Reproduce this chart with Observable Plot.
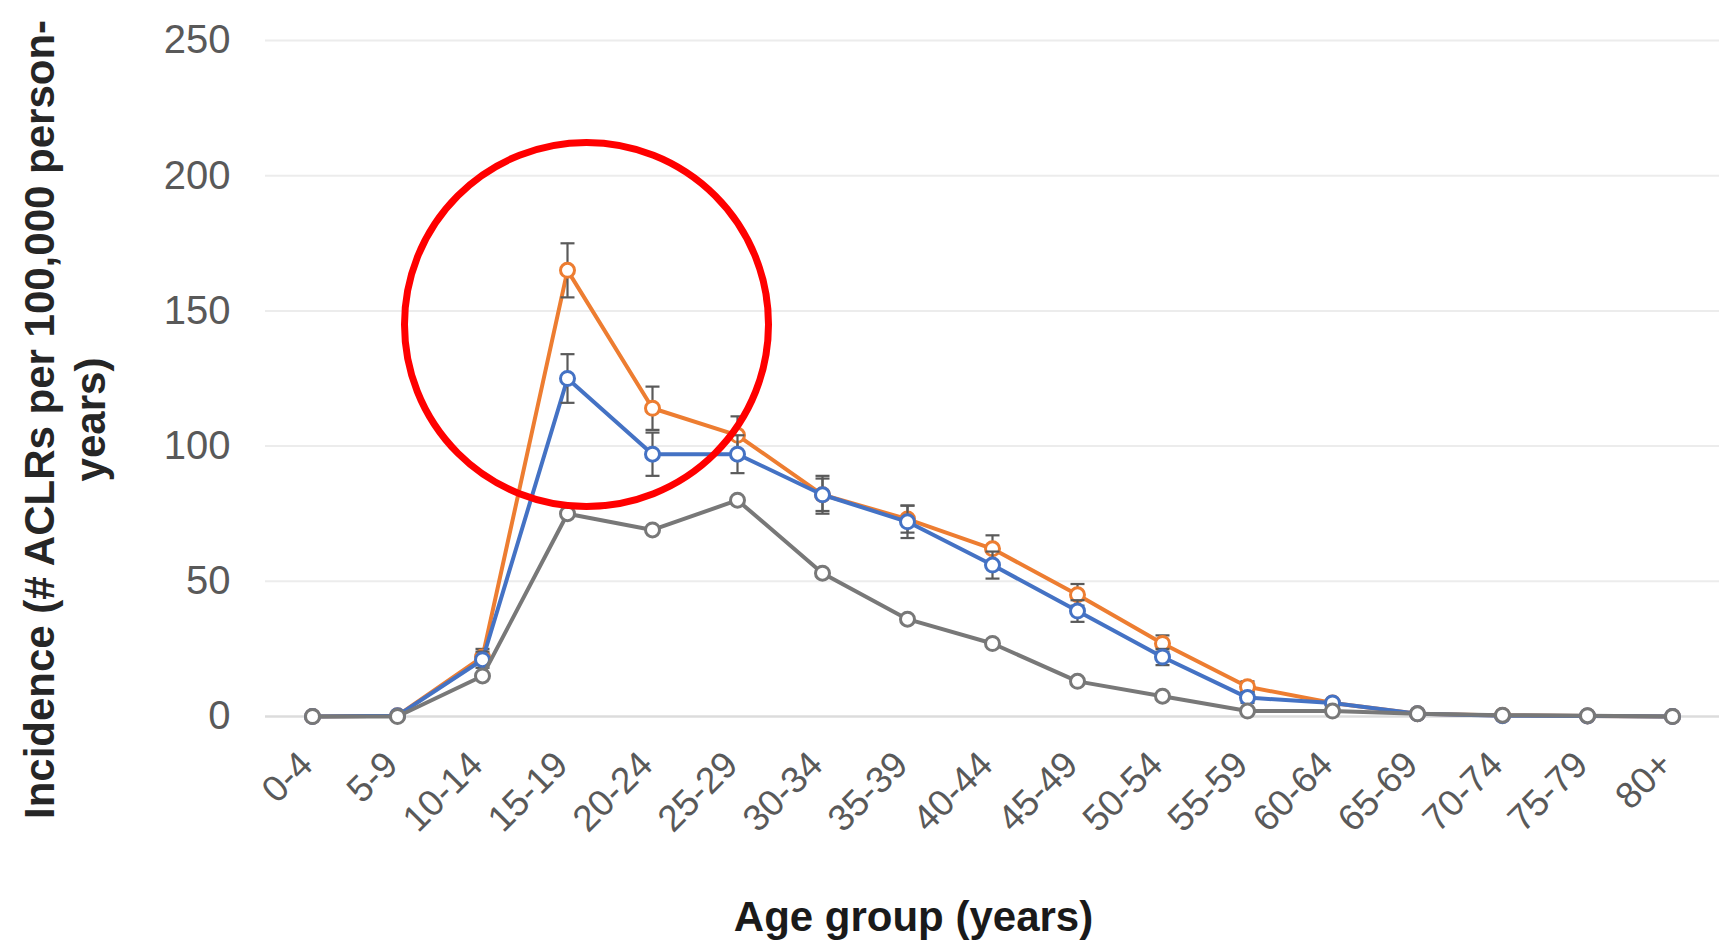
<!DOCTYPE html>
<html><head><meta charset="utf-8">
<script src="https://cdn.jsdelivr.net/npm/d3@7"></script>
<script src="https://cdn.jsdelivr.net/npm/@observablehq/plot@0.6"></script>
<style>body{margin:0;background:#fff;}</style>
</head><body><div id="chart"></div>
<script>
const ageGroups = ["0-4","5-9","10-14","15-19","20-24","25-29","30-34","35-39","40-44","45-49","50-54","55-59","60-64","65-69","70-74","75-79","80+"];
const orangeValues = [0, 0.3, 22, 165, 114, 104, 82, 73, 62, 45, 27, 11, 5, 1, 0.4, 0.2, 0];
const orangeErr    = [0, 0, 3, 10, 8, 7, 6, 5, 5, 4, 3, 2, 1, 0, 0, 0, 0];
const blueValues   = [0, 0.3, 21, 125, 97, 97, 82, 72, 56, 39, 22, 7, 5, 1, 0.3, 0.2, 0];
const blueErr      = [0, 0, 3, 9, 8, 7, 7, 6, 5, 4, 3, 2, 1, 0, 0, 0, 0];
const grayValues   = [0, 0, 15, 75, 69, 80, 53, 36, 27, 13, 7.5, 2, 2, 1, 0.5, 0.3, 0];
const yTicks = [0, 50, 100, 150, 200, 250];
const yTitle = "Incidence (# ACLRs per 100,000 person-\nyears)";
const xTitle = "Age group (years)";
const highlight = [{age: "15-19", value: 145}];

const rows = (vals, errs) => ageGroups.map((age, i) => ({age, value: vals[i], err: errs ? errs[i] : 0}));
const orange = rows(orangeValues, orangeErr);
const blue = rows(blueValues, blueErr);
const gray = rows(grayValues);

const C = {orange: "#ED7D31", blue: "#4472C4", gray: "#787878", err: "#5a5a5a"};
const capSymbol = {draw(ctx) { ctx.moveTo(-7, 0); ctx.lineTo(7, 0); }};

function series(data, color, withErr) {
  const m = [Plot.lineY(data, {x: "age", y: "value", stroke: color, strokeWidth: 4})];
  if (withErr) {
    const e = data.filter(d => d.err > 0);
    m.push(Plot.ruleX(e, {x: "age", y1: d => d.value - d.err, y2: d => d.value + d.err, stroke: C.err, strokeWidth: 2.2}));
    m.push(Plot.dot(e, {x: "age", y: d => d.value + d.err, symbol: capSymbol, fill: "none", stroke: C.err, strokeWidth: 2.2}));
    m.push(Plot.dot(e, {x: "age", y: d => d.value - d.err, symbol: capSymbol, fill: "none", stroke: C.err, strokeWidth: 2.2}));
  }
  m.push(Plot.dot(data, {x: "age", y: "value", r: 7, fill: "white", stroke: color, strokeWidth: 3}));
  return m;
}

const chart = Plot.plot({
  width: 1732,
  height: 943,
  marginTop: 40,
  marginBottom: 227,
  marginLeft: 265,
  marginRight: 13,
  style: {fontFamily: "'Liberation Sans', Arial, sans-serif", background: "white"},
  x: {type: "point", domain: ageGroups, padding: 0.5},
  y: {domain: [0, 250]},
  marks: [
    Plot.ruleY(yTicks.filter(d => d > 0), {y: d => d, stroke: "#ececec", strokeWidth: 2}),
    Plot.ruleY([0], {y: d => d, stroke: "#dcdcdc", strokeWidth: 2.5}),
    Plot.axisY(yTicks, {tickSize: 0, tickPadding: 35, fontSize: 40, fill: "#595959", label: null}),
    Plot.axisX({tickSize: 0, tickRotate: -45, tickPadding: 42, dx: -6, fontSize: 37, fill: "#595959", label: null}),
    ...series(orange, C.orange, true),
    ...series(blue, C.blue, true),
    ...series(gray, C.gray, false),
    Plot.dot(highlight, {x: "age", y: "value", r: 182, dx: 19, fill: "none", stroke: "#FF0000", strokeWidth: 7}),
    Plot.text([yTitle], {text: d => d, frameAnchor: "left", textAnchor: "middle", lineAnchor: "middle", rotate: -90,
      fontSize: 42, fontWeight: "bold", lineHeight: 1.2, dx: 63 - 265, dy: 419 - 378, fill: "#262626"}),
    Plot.text([xTitle], {text: d => d, frameAnchor: "bottom", textAnchor: "middle", lineAnchor: "middle",
      fontSize: 42, fontWeight: "bold", dx: 913 - 992, dy: 917 - 716, fill: "#1a1a1a"})
  ]
});
document.getElementById("chart").appendChild(chart);
</script>
</body></html>
